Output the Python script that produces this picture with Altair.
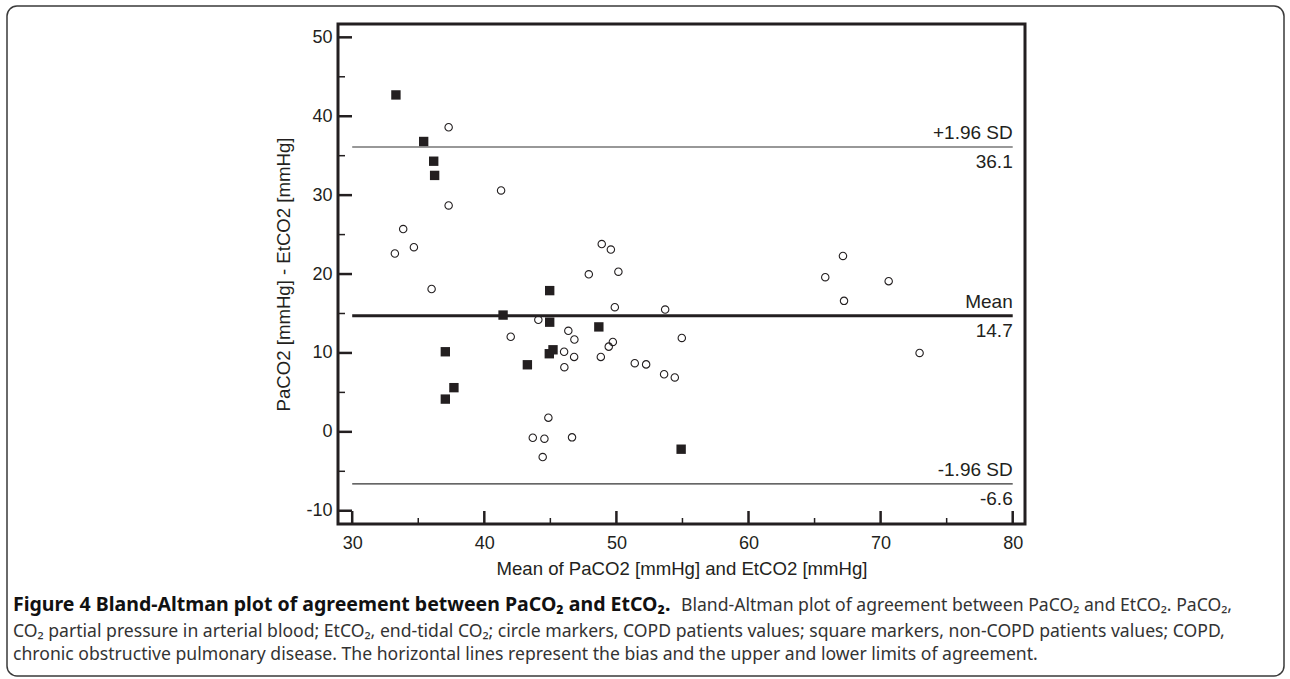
import altair as alt
import pandas as pd

# ---- data ----
copd_x = [37.30, 41.27, 37.30, 33.86, 34.67, 33.23, 36.01, 44.09, 42.00, 46.36,
          46.82, 46.04, 46.80, 46.06, 44.85, 43.67, 44.55, 46.64, 44.42, 48.89,
          49.58, 47.91, 50.15, 49.88, 53.69, 54.95, 49.73, 49.42, 48.82, 51.39,
          52.25, 53.61, 54.42, 67.15, 65.81, 70.61, 67.23, 72.95]
copd_y = [38.6, 30.6, 28.7, 25.7, 23.4, 22.6, 18.1, 14.2, 12.05, 12.8,
          11.7, 10.15, 9.5, 8.2, 1.8, -0.75, -0.87, -0.7, -3.2, 23.8,
          23.1, 19.96, 20.3, 15.8, 15.5, 11.9, 11.4, 10.8, 9.5, 8.7,
          8.55, 7.3, 6.9, 22.3, 19.6, 19.1, 16.6, 10.0]
non_x = [33.31, 35.41, 36.17, 36.24, 44.95, 41.42, 44.95, 37.05, 45.20, 44.92,
         43.26, 37.70, 37.05, 48.67, 54.90]
non_y = [42.7, 36.8, 34.3, 32.5, 17.9, 14.8, 13.9, 10.15, 10.4, 9.9,
         8.5, 5.6, 4.15, 13.3, -2.2]

limit_values = [36.1, 14.7, -6.6]
limit_names = ["+1.96 SD", "Mean", "-1.96 SD"]
limit_texts = ["36.1", "14.7", "-6.6"]
limit_start = 30
limit_end = 80

x_ticks_major = [30, 40, 50, 60, 70, 80]
x_ticks_minor = [35, 45, 55, 65, 75]
y_ticks_major = [-10, 0, 10, 20, 30, 40, 50]
y_ticks_minor = [-5, 5, 15, 25, 35, 45]

x_title = "Mean of PaCO2 [mmHg] and EtCO2 [mmHg]"
y_title = "PaCO2 [mmHg] - EtCO2 [mmHg]"
caption_bold = ["Figure 4 Bland-Altman plot of agreement between PaCO₂ and EtCO₂."]
caption_rest = ["Bland-Altman plot of agreement between PaCO₂ and EtCO₂. PaCO₂,"]
caption_line2 = ["CO₂ partial pressure in arterial blood; EtCO₂, end-tidal CO₂; circle markers, COPD patients values; square markers, non-COPD patients values; COPD,"]
caption_line3 = ["chronic obstructive pulmonary disease. The horizontal lines represent the bias and the upper and lower limits of agreement."]

# ---- styling ----
INK = "#231f20"
FONT = "Liberation Sans"
CAP_FONT = "Noto Sans"

xs = alt.Scale(domain=[28.925, 80.93], nice=False, zero=False)
ys = alt.Scale(domain=[-11.68, 51.69], nice=False, zero=False)

copd = pd.DataFrame({"x": copd_x, "y": copd_y})
non = pd.DataFrame({"x": non_x, "y": non_y})
limits = pd.DataFrame({"y": limit_values, "name": limit_names, "val": limit_texts,
                       "x0": [limit_start] * 3, "x1": [limit_end] * 3})
one = pd.DataFrame({"k": [0]})

x_axis = alt.Axis(values=x_ticks_major, ticks=False, domain=False, grid=False,
                  labelExpr="'' + datum.value",
                  labelFont=FONT, labelFontSize=18, labelColor=INK, labelPadding=10,
                  title=x_title, titleFont=FONT, titleFontSize=18.6, titleFontWeight="normal",
                  titleColor=INK, titlePadding=7)
y_axis = alt.Axis(values=y_ticks_major, ticks=False, domain=False, grid=False,
                  labelExpr="'' + datum.value",
                  labelFont=FONT, labelFontSize=18, labelColor=INK, labelPadding=6,
                  title=y_title, titleFont=FONT, titleFontSize=18.6, titleFontWeight="normal",
                  titleColor=INK, titlePadding=12)


def X(field):
    return alt.X(field, scale=xs, axis=x_axis)


def Y(field):
    return alt.Y(field, scale=ys, axis=y_axis)


circles = alt.Chart(copd).mark_point(shape="circle", filled=False, size=55,
                                     stroke=INK, strokeWidth=1.1, opacity=1).encode(
    x=X("x:Q"), y=Y("y:Q"))
squares = alt.Chart(non).mark_point(shape="square", filled=True, size=88,
                                    color=INK, opacity=1).encode(
    x=X("x:Q"), y=Y("y:Q"))

sd_lines = alt.Chart(limits).transform_filter(alt.datum.name != "Mean").mark_rule(
    color="#333333", strokeWidth=1.2).encode(x=X("x0:Q"), x2="x1:Q", y=Y("y:Q"))
mean_line = alt.Chart(limits).transform_filter(alt.datum.name == "Mean").mark_rule(
    color=INK, strokeWidth=3).encode(x=X("x0:Q"), x2="x1:Q", y=Y("y:Q"))

lab_top = alt.Chart(limits).mark_text(align="right", baseline="alphabetic", dy=-8,
                                      font=FONT, fontSize=19, color=INK).encode(
    x=X("x1:Q"), y=Y("y:Q"), text="name:N")
lab_bot = alt.Chart(limits).mark_text(align="right", baseline="alphabetic", dy=21,
                                      font=FONT, fontSize=19, color=INK).encode(
    x=X("x1:Q"), y=Y("y:Q"), text="val:N")

ytm = alt.Chart(pd.DataFrame({"y": y_ticks_major})).mark_rule(color=INK, strokeWidth=2.5).encode(
    y=Y("y:Q"), x=alt.value(0), x2=alt.value(14))
ytn = alt.Chart(pd.DataFrame({"y": y_ticks_minor})).mark_rule(color=INK, strokeWidth=1.5).encode(
    y=Y("y:Q"), x=alt.value(0), x2=alt.value(7))
xtm = alt.Chart(pd.DataFrame({"x": x_ticks_major})).mark_rule(color=INK, strokeWidth=2.5).encode(
    x=X("x:Q"), y=alt.value(500), y2=alt.value(487))
xtn = alt.Chart(pd.DataFrame({"x": x_ticks_minor})).mark_rule(color=INK, strokeWidth=1.5).encode(
    x=X("x:Q"), y=alt.value(500), y2=alt.value(494))

box = alt.Chart(one).mark_rect(fillOpacity=0, stroke="#3a3a3a", strokeWidth=1.5,
                               cornerRadius=10).encode(
    x=alt.value(-331), x2=alt.value(946), y=alt.value(-18), y2=alt.value(652))


def cap(lines, x, y, bold=False, size=17.6):
    return alt.Chart(pd.DataFrame({"t": lines})).mark_text(
        align="left", baseline="alphabetic", font=CAP_FONT, fontSize=size,
        fontWeight="bold" if bold else "normal",
        color="#111111" if bold else "#333333").encode(
        x=alt.value(x), y=alt.value(y), text="t:N")


captions = [cap(caption_bold, -325, 587, True, 19.5), cap(caption_rest, 343, 587),
            cap(caption_line2, -325, 613), cap(caption_line3, -325, 636)]

chart = alt.layer(circles, box, sd_lines, mean_line, lab_top, lab_bot, ytm, ytn, xtm, xtn,
                  squares, *captions).properties(
    width=687, height=500,
    padding={"left": 338, "top": 24, "right": 265, "bottom": 155},
    autosize=alt.AutoSizeParams(type="none"),
    background="white",
).configure_view(stroke=INK, strokeWidth=3)

chart.save("out.html", embed_options={"renderer": "svg", "actions": False})
